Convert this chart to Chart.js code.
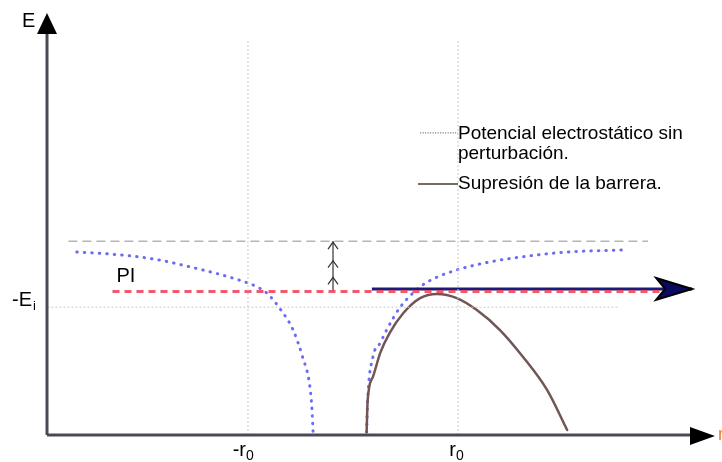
<!DOCTYPE html>
<html lang="es">
<head>
  <meta charset="UTF-8" />
  <title>Supresión de la barrera</title>
  <script src="https://cdn.jsdelivr.net/npm/chart.js"></script>
  <style>
    html, body { margin: 0; padding: 0; background: #fff; }
    canvas { display: block; }
  </style>
</head>
<body>
  <canvas id="chart" width="722" height="462"></canvas>

  <script>
    // eje x en unidades de r0, eje y energía (unidades arbitrarias)
    const xTicks = [-1, 1];
    const xTickLabels = ['-r', 'r'];
    const gridTop = 9.52;

    const levelTop = 4.67;   // nivel sin perturbar
    const levelPI = 3.46;    // potencial de ionización
    const levelEi = 3.08;    // -Ei

    // potencial electrostático sin perturbación (izquierda)
    const potLeftX = [-2.63, -2.31, -2.03, -1.79, -1.55, -1.31, -1.08, -0.93, -0.82, -0.70, -0.57, -0.48, -0.41, -0.39, -0.38];
    const potLeftY = [4.41, 4.36, 4.29, 4.19, 4.05, 3.90, 3.73, 3.59, 3.42, 3.06, 2.53, 1.88, 1.16, 0.60, 0.07];

    // potencial electrostático sin perturbación (derecha)
    const potRightX = [0.13, 0.14, 0.19, 0.26, 0.32, 0.45, 0.64, 0.78, 1.02, 1.30, 1.66, 2.04, 2.59];
    const potRightY = [0.07, 0.84, 1.88, 2.22, 2.53, 3.08, 3.57, 3.78, 4.00, 4.17, 4.31, 4.41, 4.46];

    // supresión de la barrera
    const barrierX = [0.13, 0.14, 0.19, 0.26, 0.35, 0.48, 0.64, 0.80, 0.99, 1.18, 1.40, 1.62, 1.85, 2.04];
    const barrierY = [0.07, 0.84, 1.40, 1.98, 2.46, 2.94, 3.30, 3.40, 3.30, 3.01, 2.53, 1.88, 1.08, 0.12];

    // extremos de las rectas
    const topLineX = [-2.71, 2.81];
    const piLineX = [-2.29, 2.92];
    const eiLineX = [-2.91, 2.54];
    const escapeX = [0.18, 3.23];
    const escapeY = 3.52;
    const liftX = -0.19;
    const liftHeads = [4.65, 4.20, 3.80];

    // muestras de la leyenda
    const legendDotX = [0.64, 1.0];
    const legendDotY = 7.28;
    const legendSolidX = [0.62, 1.0];
    const legendSolidY = 6.05;
    const legendLines = [['Potencial electrostático sin', 'perturbación.'], ['Supresión de la barrera.']];

    const pts = (xs, ys) => xs.map((x, i) => ({ x: x, y: Array.isArray(ys) ? ys[i] : ys }));

    function line(data, color, width, dash, extra) {
      return Object.assign({
        data: data,
        showLine: true,
        borderColor: color,
        borderWidth: width,
        borderDash: dash || [],
        pointRadius: 0,
        fill: false
      }, extra || {});
    }

    const smooth = { cubicInterpolationMode: 'monotone', borderCapStyle: 'round' };
    const FONT = '"Liberation Sans", Arial, sans-serif';

    const drawings = {
      id: 'drawings',
      afterDatasetsDraw(chart) {
        const { ctx, chartArea: a, scales: { x, y } } = chart;
        ctx.save();

        // ejes
        ctx.strokeStyle = '#4a4a55';
        ctx.lineWidth = 3;
        ctx.beginPath();
        ctx.moveTo(a.left, a.bottom);
        ctx.lineTo(a.left, a.top + 14);
        ctx.moveTo(a.left, a.bottom);
        ctx.lineTo(a.right - 14, a.bottom);
        ctx.stroke();

        ctx.fillStyle = '#000';
        ctx.beginPath();
        ctx.moveTo(a.left, a.top);
        ctx.lineTo(a.left - 10, a.top + 21);
        ctx.lineTo(a.left + 10, a.top + 21);
        ctx.closePath();
        ctx.fill();
        ctx.beginPath();
        ctx.moveTo(a.right, a.bottom + 1);
        ctx.lineTo(a.right - 25, a.bottom - 8);
        ctx.lineTo(a.right - 25, a.bottom + 10);
        ctx.closePath();
        ctx.fill();

        // flecha de escape
        const tx = x.getPixelForValue(escapeX[1]);
        const ty = y.getPixelForValue(escapeY);
        ctx.fillStyle = '#0a0a5e';
        ctx.strokeStyle = '#000';
        ctx.lineWidth = 2;
        ctx.lineJoin = 'miter';
        ctx.beginPath();
        ctx.moveTo(tx, ty);
        ctx.lineTo(tx - 36, ty - 11);
        ctx.lineTo(tx - 27, ty);
        ctx.lineTo(tx - 36, ty + 11);
        ctx.closePath();
        ctx.fill();
        ctx.stroke();

        // puntas de las flechitas
        const lx = x.getPixelForValue(liftX);
        ctx.strokeStyle = '#333';
        ctx.lineWidth = 1.2;
        liftHeads.forEach(v => {
          const py = y.getPixelForValue(v);
          ctx.beginPath();
          ctx.moveTo(lx - 5, py + 7);
          ctx.lineTo(lx, py);
          ctx.lineTo(lx + 5, py + 7);
          ctx.stroke();
        });

        // textos
        ctx.fillStyle = '#000';
        ctx.textBaseline = 'alphabetic';
        ctx.textAlign = 'left';
        ctx.font = '20px ' + FONT;
        ctx.fillText('E', a.left - 25, a.top + 14);

        const ey = y.getPixelForValue(levelEi);
        ctx.fillText('-E', a.left - 35, ey - 1);
        ctx.font = '13px ' + FONT;
        ctx.fillText('i', a.left - 14, ey + 3);

        ctx.font = '20px ' + FONT;
        ctx.fillText('PI', x.getPixelForValue(piLineX[0]) + 4, y.getPixelForValue(levelPI) - 9);

        xTicks.forEach((v, i) => {
          const px = x.getPixelForValue(v);
          ctx.font = '20px ' + FONT;
          ctx.textAlign = 'right';
          ctx.fillText(xTickLabels[i], px - 2, a.bottom + 21);
          ctx.font = '14px ' + FONT;
          ctx.textAlign = 'left';
          ctx.fillText('0', px - 2, a.bottom + 25);
        });

        ctx.fillStyle = '#e0892f';
        ctx.font = '18px ' + FONT;
        ctx.fillText('r', a.right + 3, a.bottom + 5);

        // textos de la leyenda
        ctx.fillStyle = '#000';
        ctx.font = '19px ' + FONT;
        const t1x = x.getPixelForValue(legendDotX[1]);
        const t1y = y.getPixelForValue(legendDotY);
        ctx.fillText(legendLines[0][0], t1x, t1y + 6);
        ctx.fillText(legendLines[0][1], t1x, t1y + 26);
        ctx.fillText(legendLines[1][0], x.getPixelForValue(legendSolidX[1]), y.getPixelForValue(legendSolidY) + 5);

        ctx.restore();
      }
    };

    new Chart(document.getElementById('chart'), {
      type: 'scatter',
      data: {
        datasets: [
          line(pts([xTicks[0], xTicks[0]], [0, gridTop]), '#c9c9c9', 1, [2, 2]),
          line(pts([xTicks[1], xTicks[1]], [0, gridTop]), '#c9c9c9', 1, [2, 2]),
          line(pts(eiLineX, levelEi), '#c9c9c9', 1, [2, 2]),
          line(pts(topLineX, levelTop), '#b5b5b5', 1.5, [9, 5]),
          line(pts(piLineX, levelPI), 'rgba(238,72,92,0.9)', 3, [7, 5]),
          line(pts(escapeX, escapeY), '#1c1c78', 3),
          line(pts([liftX, liftX], [levelPI, levelTop]), '#333', 1.2),
          line(pts(potLeftX, potLeftY), 'rgb(108,108,242)', 3, [0.5, 7], smooth),
          line(pts(barrierX, barrierY), '#735555', 2.5, [], smooth),
          line(pts(potRightX, potRightY), 'rgb(108,108,242)', 3, [0.5, 7], smooth),
          line(pts(legendDotX, legendDotY), '#444', 1, [1, 1.5]),
          line(pts(legendSolidX, legendSolidY), '#4a3a2a', 1.5)
        ]
      },
      options: {
        responsive: false,
        animation: false,
        layout: { padding: { left: 47, right: 7, top: 13, bottom: 27 } },
        scales: {
          x: { type: 'linear', min: -2.914, max: 3.448, display: false },
          y: { type: 'linear', min: 0, max: 10.17, display: false }
        },
        plugins: {
          legend: { display: false },
          tooltip: { enabled: false }
        }
      },
      plugins: [drawings]
    });
  </script>
</body>
</html>
